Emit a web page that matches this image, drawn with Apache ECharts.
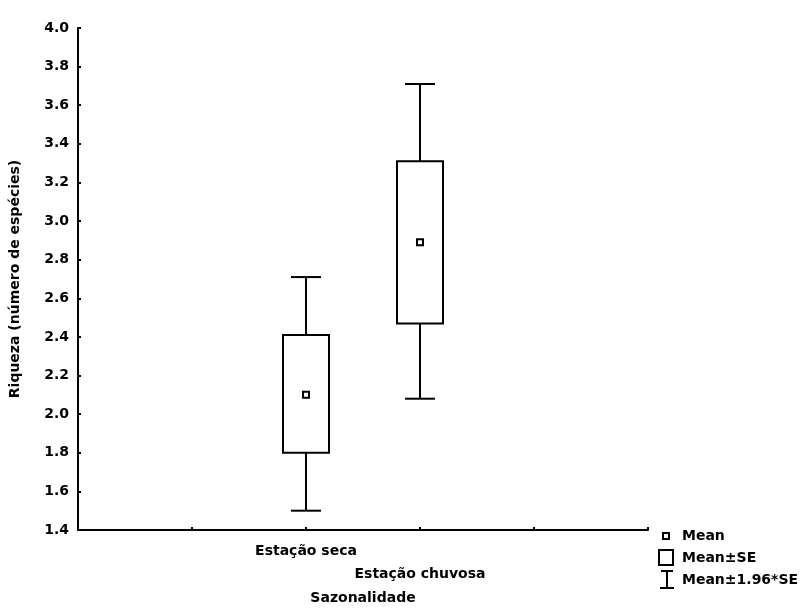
<!DOCTYPE html>
<html>
<head>
<meta charset="utf-8">
<script src="https://cdn.jsdelivr.net/npm/echarts@6/dist/echarts.min.js"></script>
<style>
  html, body { margin: 0; padding: 0; background: #fff; }
  #chart { width: 802px; height: 611px; }
</style>
</head>
<body>
<div id="chart"></div>
<script>
// data
const categories = ['Estação seca', 'Estação chuvosa'];
const catPos = [2, 3];
const means = [2.10, 2.89];
const seLow = [1.80, 2.47];
const seHigh = [2.41, 3.31];
const ciLow = [1.50, 2.08];
const ciHigh = [2.71, 3.71];
const legendNames = ['Mean', 'Mean±SE', 'Mean±1.96*SE'];

const FONT = '"DejaVu Sans", sans-serif';
const chart = echarts.init(document.getElementById('chart'));

// whiskers (Mean±1.96*SE)
function renderWhisker(params, api) {
  const x = api.value(0);
  const top = api.coord([x, api.value(2)]);
  const bot = api.coord([x, api.value(1)]);
  const boxTop = api.coord([x, api.value(4)]);
  const boxBot = api.coord([x, api.value(3)]);
  const half = 15;
  const st = { stroke: '#000', lineWidth: 2 };
  return {
    type: 'group',
    children: [
      { type: 'line', shape: { x1: top[0], y1: top[1], x2: boxTop[0], y2: boxTop[1] }, style: st },
      { type: 'line', shape: { x1: top[0] - half, y1: top[1], x2: top[0] + half, y2: top[1] }, style: st },
      { type: 'line', shape: { x1: bot[0], y1: bot[1], x2: boxBot[0], y2: boxBot[1] }, style: st },
      { type: 'line', shape: { x1: bot[0] - half, y1: bot[1], x2: bot[0] + half, y2: bot[1] }, style: st }
    ]
  };
}

// boxes (Mean±SE)
function renderBox(params, api) {
  const x = api.value(0);
  const hi = api.coord([x, api.value(2)]);
  const lo = api.coord([x, api.value(1)]);
  const w = 46;
  return {
    type: 'rect',
    shape: { x: hi[0] - w / 2, y: hi[1], width: w, height: lo[1] - hi[1] },
    style: { fill: '#fff', stroke: '#000', lineWidth: 2 }
  };
}

const whiskerData = catPos.map((p, i) => [p, ciLow[i], ciHigh[i], seLow[i], seHigh[i]]);
const boxData = catPos.map((p, i) => [p, seLow[i], seHigh[i]]);
const meanData = catPos.map((p, i) => [p, means[i]]);

const legendX = 658;
const legendText = { font: 'bold 14px ' + FONT, fill: '#000', textVerticalAlign: 'middle' };

chart.setOption({
  backgroundColor: '#fff',
  animation: false,
  grid: { left: 76, right: 154, top: 28, bottom: 81 },
  xAxis: {
    type: 'value',
    min: 0,
    max: 5,
    interval: 1,
    name: 'Sazonalidade',
    nameLocation: 'middle',
    nameGap: 58,
    nameTextStyle: { fontFamily: FONT, fontWeight: 'bold', fontSize: 14, color: '#000' },
    splitLine: { show: false },
    axisLine: { lineStyle: { color: '#000', width: 2 } },
    axisTick: { inside: true, length: 3, lineStyle: { color: '#000', width: 2 } },
    axisLabel: {
      margin: 10,
      showMinLabel: true,
      showMaxLabel: true,
      fontFamily: FONT,
      fontWeight: 'bold',
      fontSize: 14,
      color: '#000',
      lineHeight: 23,
      formatter: function (v) {
        const i = catPos.indexOf(v);
        if (i < 0) return '';
        return i === 1 ? '\n' + categories[i] : categories[i];
      }
    }
  },
  yAxis: {
    type: 'value',
    min: 1.4,
    max: 4.0,
    interval: 0.2,
    name: 'Riqueza (número de espécies)',
    nameLocation: 'middle',
    nameGap: 56,
    nameTextStyle: { fontFamily: FONT, fontWeight: 'bold', fontSize: 14, color: '#000' },
    splitLine: { show: false },
    axisLine: { show: true, lineStyle: { color: '#000', width: 2 } },
    axisTick: { show: true, inside: true, length: 3, lineStyle: { color: '#000', width: 2 } },
    axisLabel: {
      margin: 9,
      fontFamily: FONT,
      fontWeight: 'bold',
      fontSize: 14,
      color: '#000',
      formatter: v => v.toFixed(1)
    }
  },
  series: [
    {
      name: legendNames[2],
      type: 'custom',
      renderItem: renderWhisker,
      encode: { x: 0, y: [1, 2, 3, 4] },
      data: whiskerData,
      z: 2
    },
    {
      name: legendNames[1],
      type: 'custom',
      renderItem: renderBox,
      encode: { x: 0, y: [1, 2] },
      data: boxData,
      z: 3
    },
    {
      name: legendNames[0],
      type: 'scatter',
      symbol: 'rect',
      symbolSize: 6,
      itemStyle: { color: '#fff', borderColor: '#000', borderWidth: 2, opacity: 1 },
      data: meanData,
      z: 4
    }
  ],
  graphic: [
    { type: 'rect', shape: { x: legendX + 5, y: 533, width: 6, height: 6 }, style: { fill: '#fff', stroke: '#000', lineWidth: 2 } },
    { type: 'text', x: legendX + 24, y: 536, style: Object.assign({ text: legendNames[0] }, legendText) },
    { type: 'rect', shape: { x: legendX + 1, y: 550, width: 14, height: 15 }, style: { fill: '#fff', stroke: '#000', lineWidth: 2 } },
    { type: 'text', x: legendX + 24, y: 558, style: Object.assign({ text: legendNames[1] }, legendText) },
    { type: 'line', shape: { x1: legendX + 3, y1: 571, x2: legendX + 15, y2: 571 }, style: { stroke: '#000', lineWidth: 2 } },
    { type: 'line', shape: { x1: legendX + 9, y1: 571, x2: legendX + 9, y2: 588 }, style: { stroke: '#000', lineWidth: 2 } },
    { type: 'line', shape: { x1: legendX + 2, y1: 588, x2: legendX + 16, y2: 588 }, style: { stroke: '#000', lineWidth: 2 } },
    { type: 'text', x: legendX + 24, y: 580, style: Object.assign({ text: legendNames[2] }, legendText) }
  ]
});
</script>
</body>
</html>
